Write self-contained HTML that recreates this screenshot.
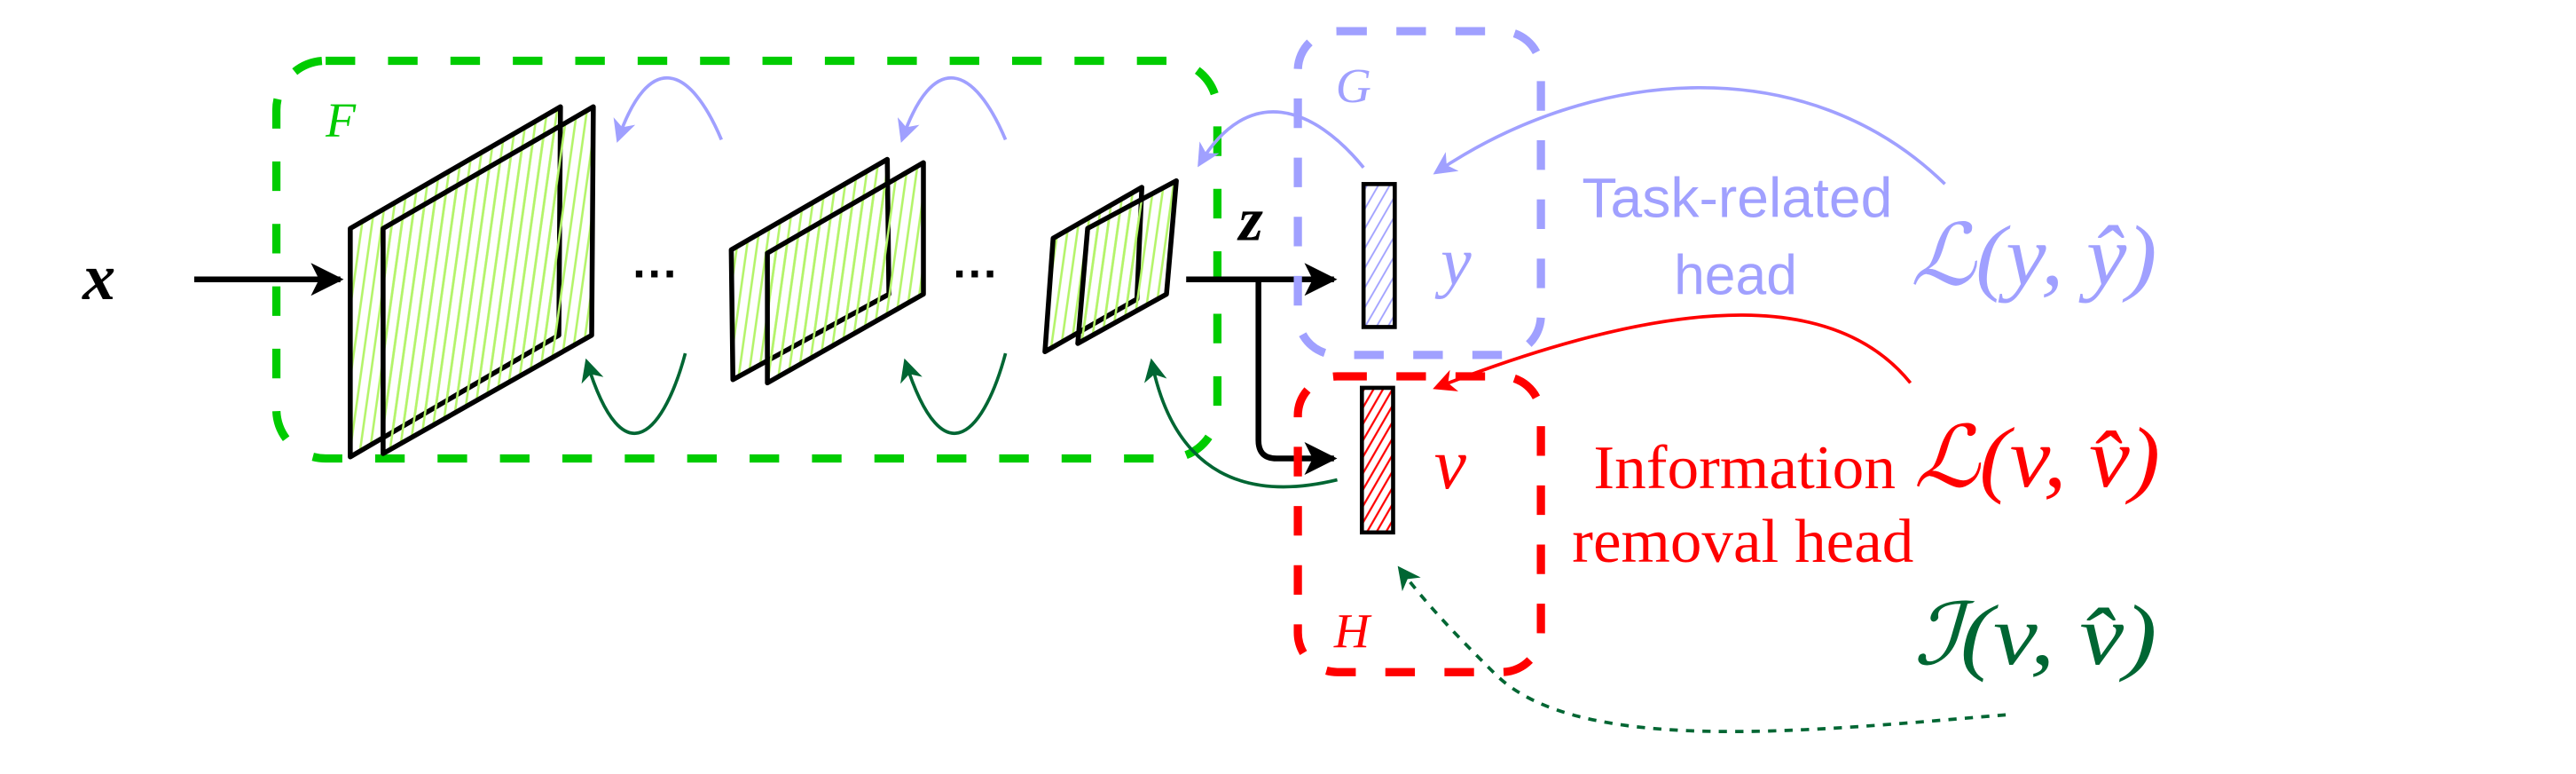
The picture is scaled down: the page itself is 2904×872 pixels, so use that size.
<!DOCTYPE html>
<html><head><meta charset="utf-8"><style>
html,body{margin:0;padding:0;background:#fff;}
svg{display:block;}
.m{font-family:"Liberation Serif","DejaVu Serif",serif;font-style:italic;}
.s{font-family:"Liberation Serif",serif;}
</style></head><body>
<svg width="2904" height="872" viewBox="0 0 1568 471" xmlns="http://www.w3.org/2000/svg">
<defs>
<pattern id="hg" width="6" height="40" patternUnits="userSpaceOnUse" patternTransform="rotate(8)"><line x1="3" y1="0" x2="3" y2="40" stroke="#b4f46a" stroke-width="1.4"/></pattern>
<pattern id="hb" width="6" height="10" patternUnits="userSpaceOnUse" patternTransform="rotate(30)"><line x1="3" y1="0" x2="3" y2="10" stroke="#a0a0ff" stroke-width="1"/></pattern>
<pattern id="hr" width="5" height="10" patternUnits="userSpaceOnUse" patternTransform="rotate(30)"><line x1="2.5" y1="0" x2="2.5" y2="10" stroke="#ff0000" stroke-width="1.2"/></pattern>
<marker id="ab" markerWidth="14" markerHeight="14" refX="12" refY="7" orient="auto" markerUnits="userSpaceOnUse"><path d="M0,0 L14,7 L0,14 L4,7z" fill="#a0a0ff"/></marker>
<marker id="ag" markerWidth="14" markerHeight="14" refX="12" refY="7" orient="auto" markerUnits="userSpaceOnUse"><path d="M0,0 L14,7 L0,14 L4,7z" fill="#006633"/></marker>
<marker id="ar" markerWidth="14" markerHeight="14" refX="12" refY="7" orient="auto" markerUnits="userSpaceOnUse"><path d="M0,0 L14,7 L0,14 L4,7z" fill="#ff0000"/></marker>
<marker id="ak" markerWidth="20" markerHeight="20" refX="18" refY="10" orient="auto" markerUnits="userSpaceOnUse"><path d="M0,0 L20,10 L0,20 L5,10z" fill="#000"/></marker>
</defs>

<rect x="168" y="37" width="573" height="242" rx="30" fill="none" stroke="#00cc00" stroke-width="5" stroke-dasharray="18,20"/>
<text class="m" x="198" y="83" font-size="30" fill="#00cc00">F</text>

<text class="m" x="50" y="182" font-size="40" font-weight="bold" fill="#000">x</text>
<line x1="118" y1="170" x2="207" y2="170" stroke="#000" stroke-width="3.5" marker-end="url(#ak)"/>

<g stroke="#000" stroke-width="3" stroke-linejoin="round">
<polygon points="213,139 341,65 340,204 213,278" fill="url(#hg)"/>
<polygon points="233,139 361,65 360,204 233,276" fill="url(#hg)"/>
</g>
<text x="385" y="176" font-size="28" font-weight="bold" font-family="Liberation Sans, sans-serif">···</text>
<g stroke="#000" stroke-width="3" stroke-linejoin="round">
<polygon points="445,152 540,97 541,179 446,231" fill="url(#hg)"/>
<polygon points="467,154 562,99 562,179 467,233" fill="url(#hg)"/>
</g>
<text x="580" y="176" font-size="28" font-weight="bold" font-family="Liberation Sans, sans-serif">···</text>
<g stroke="#000" stroke-width="3" stroke-linejoin="round">
<polygon points="641,145 695,114 692,182 636,214" fill="url(#hg)"/>
<polygon points="662,139 716,110 710,179 656,209" fill="url(#hg)"/>
</g>

<g fill="none" stroke="#a0a0ff" stroke-width="2">
<path d="M439,85 C420,40 395,30 376,85" marker-end="url(#ab)"/>
<path d="M612,85 C593,40 568,30 549,85" marker-end="url(#ab)"/>
<path d="M830,102 C800,65 760,50 730,100" marker-end="url(#ab)"/>
<path d="M1184,112 C1100,30 970,40 874,105" marker-end="url(#ab)"/>
</g>
<g fill="none" stroke="#006633" stroke-width="2">
<path d="M417,215 C405,260 380,295 357,220" marker-end="url(#ag)"/>
<path d="M612,215 C600,260 575,295 551,220" marker-end="url(#ag)"/>
<path d="M814,292 C760,305 715,290 701,220" marker-end="url(#ag)"/>
<path d="M1221,435 C1100,445 960,460 910,410 C890,390 870,370 852,346" stroke-dasharray="5,5" marker-end="url(#ag)"/>
</g>
<path d="M1163,233 C1120,180 1030,175 874,236" fill="none" stroke="#ff0000" stroke-width="2" marker-end="url(#ar)"/>

<text class="m" x="754" y="146" font-size="38" font-weight="bold" fill="#000">z</text>
<line x1="722" y1="170" x2="812" y2="170" stroke="#000" stroke-width="3.5" marker-end="url(#ak)"/>
<path d="M766,170 L766,268 Q766,279 777,279 L812,279" fill="none" stroke="#000" stroke-width="3.5" marker-end="url(#ak)"/>

<rect x="790" y="19" width="148" height="197" rx="24" fill="none" stroke="#a0a0ff" stroke-width="5" stroke-dasharray="18,18"/>
<text class="m" x="813" y="62" font-size="30" fill="#a0a0ff">G</text>
<rect x="830" y="112" width="19" height="87" fill="url(#hb)" stroke="#000" stroke-width="2.5"/>
<text class="m" x="877" y="173" font-size="42" fill="#a0a0ff">y</text>

<rect x="790" y="229" width="148" height="180" rx="24" fill="none" stroke="#ff0000" stroke-width="5" stroke-dasharray="18,18"/>
<text class="m" x="812" y="394" font-size="30" fill="#ff0000">H</text>
<rect x="829" y="236" width="19" height="88" fill="url(#hr)" stroke="#000" stroke-width="2.5"/>
<text class="m" x="873" y="297" font-size="44" fill="#ff0000">v</text>

<text x="963" y="132" font-size="34" textLength="189" lengthAdjust="spacingAndGlyphs" fill="#a0a0ff" font-family="Liberation Sans, sans-serif">Task-related</text>
<text x="1019" y="179" font-size="34" textLength="75" lengthAdjust="spacingAndGlyphs" fill="#a0a0ff" font-family="Liberation Sans, sans-serif">head</text>
<text class="m" x="1163" y="173" font-size="52" textLength="150" lengthAdjust="spacingAndGlyphs" fill="#a0a0ff">ℒ(y, ŷ)</text>

<text class="s" x="970" y="297" font-size="38" textLength="184" lengthAdjust="spacingAndGlyphs" fill="#ff0000">Information</text>
<text class="s" x="957" y="342" font-size="38" textLength="208" lengthAdjust="spacingAndGlyphs" fill="#ff0000">removal head</text>
<text class="m" x="1165" y="296" font-size="52" textLength="150" lengthAdjust="spacingAndGlyphs" fill="#ff0000">ℒ(v, v̂)</text>
<text class="m" x="1165" y="404" font-size="52" textLength="148" lengthAdjust="spacingAndGlyphs" fill="#006633">ℐ(v, v̂)</text>
</svg>
</body></html>
